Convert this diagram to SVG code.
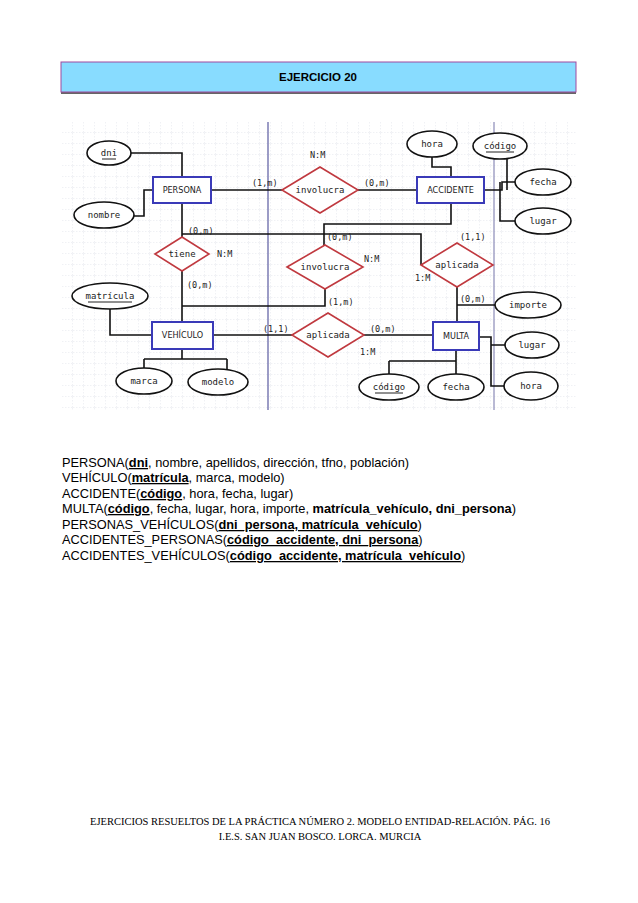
<svg xmlns="http://www.w3.org/2000/svg" width="638" height="903" viewBox="0 0 638 903">
<style>
.ent{fill:#fff;stroke:#3a3ab8;stroke-width:2}
.att{fill:#fff;stroke:#111;stroke-width:1.6}
.rel{fill:#fff;stroke:#c0393f;stroke-width:1.6}
.ln{fill:none;stroke:#111;stroke-width:1.6}
.t{font-family:"DejaVu Sans Mono",monospace;font-size:9px;fill:#222;text-anchor:middle}
.e{font-family:"DejaVu Sans Condensed","DejaVu Sans",sans-serif;font-size:9px;fill:#222;text-anchor:middle}
.c{font-family:"DejaVu Sans Mono",monospace;font-size:8.5px;fill:#222}
.p{font-family:"Liberation Sans",Arial,sans-serif;font-size:12.8px;fill:#000}
.f{font-family:"Liberation Serif","Times New Roman",serif;font-size:10.5px;fill:#000;text-anchor:middle}
</style>
<defs>
<pattern id="g" width="11" height="11" patternUnits="userSpaceOnUse" x="62" y="122">
<path d="M11 0V11M0 11H11" fill="none" stroke="#d8dce4" stroke-width="0.8" stroke-dasharray="1.5,1.5"/>
</pattern>
</defs>
<rect width="638" height="903" fill="#fff"/>
<g id="header">
<rect x="61" y="63" width="515" height="31" fill="#000" opacity="0.6"/>
<rect x="61" y="62" width="515" height="30" fill="#88dcff" stroke="#a04aa0" stroke-width="1"/>
<text x="318" y="81" font-family="Liberation Sans,Arial,sans-serif" font-size="11.5px" font-weight="bold" text-anchor="middle">EJERCICIO 20</text>
</g>
<rect x="62" y="122" width="515" height="288" fill="url(#g)"/>
<line x1="268" y1="122" x2="268" y2="410" stroke="#5a5aa0" stroke-width="1.2"/>
<line x1="494" y1="122" x2="494" y2="410" stroke="#8a8ab8" stroke-width="1.2"/>
<g id="connectors">
<path class="ln" d="M131 153H182V177"/>
<path class="ln" d="M134 216H144V190H153"/>
<path class="ln" d="M211 190H282"/>
<path class="ln" d="M358 190H417"/>
<path class="ln" d="M432 157V167H451V177"/>
<path class="ln" d="M484 190H502V182H515"/>
<path class="ln" d="M500 182V221H515"/>
<path class="ln" d="M507 159V190"/>
<path class="ln" d="M182 203V237"/>
<path class="ln" d="M182 234H421V265"/>
<path class="ln" d="M451 203V224H324V245"/>
<path class="ln" d="M182 271V322"/>
<path class="ln" d="M182 306H325V289"/>
<path class="ln" d="M457 287V322"/>
<path class="ln" d="M457 305H495"/>
<path class="ln" d="M213 335H292"/>
<path class="ln" d="M364 335H433"/>
<path class="ln" d="M110 309V335H152"/>
<path class="ln" d="M182 349V359M144 359H227M144 359V368M227 359V369"/>
<path class="ln" d="M456 350V374M389 361H456M389 361V374"/>
<path class="ln" d="M479 337H491V386H504M491 345H505"/>
</g>
<g id="persona"><rect class="ent" x="153" y="177" width="58" height="26"/><text class="e" x="182" y="193">PERSONA</text></g>
<g id="accidente"><rect class="ent" x="417" y="177" width="67" height="26"/><text class="e" x="450.5" y="193">ACCIDENTE</text></g>
<g id="vehiculo"><rect class="ent" x="152" y="322" width="61" height="27"/><text class="e" x="182.5" y="338">VEHÍCULO</text></g>
<g id="multa"><rect class="ent" x="433" y="322" width="46" height="28"/><text class="e" x="456" y="339">MULTA</text></g>
<g id="dni"><ellipse class="att" cx="109" cy="153" rx="22" ry="12"/><text class="t" x="109" y="156">dni</text><line x1="102" y1="159" x2="116" y2="159" stroke="#222"/></g>
<g id="nombre"><ellipse class="att" cx="104" cy="215" rx="30" ry="13"/><text class="t" x="104" y="218">nombre</text></g>
<g id="hora1"><ellipse class="att" cx="432" cy="144" rx="25" ry="13"/><text class="t" x="432" y="147">hora</text></g>
<g id="codigo1"><ellipse class="att" cx="500" cy="146" rx="27" ry="13"/><text class="t" x="500" y="149">código</text><line x1="486" y1="152" x2="514" y2="152" stroke="#222"/></g>
<g id="fecha1"><ellipse class="att" cx="543" cy="182" rx="28" ry="13"/><text class="t" x="543" y="185">fecha</text></g>
<g id="lugar1"><ellipse class="att" cx="543" cy="221" rx="28" ry="13"/><text class="t" x="543" y="224">lugar</text></g>
<g id="matricula"><ellipse class="att" cx="110" cy="296" rx="38" ry="13"/><text class="t" x="110" y="299">matrícula</text><line x1="88" y1="302" x2="132" y2="302" stroke="#222"/></g>
<g id="marca"><ellipse class="att" cx="144" cy="381" rx="28" ry="13"/><text class="t" x="144" y="384">marca</text></g>
<g id="modelo"><ellipse class="att" cx="218" cy="382" rx="30" ry="13"/><text class="t" x="218" y="385">modelo</text></g>
<g id="importe"><ellipse class="att" cx="528" cy="305" rx="33" ry="13"/><text class="t" x="528" y="308">importe</text></g>
<g id="lugar2"><ellipse class="att" cx="532" cy="345" rx="27" ry="13"/><text class="t" x="532" y="348">lugar</text></g>
<g id="hora2"><ellipse class="att" cx="531" cy="386" rx="27" ry="14"/><text class="t" x="531" y="389">hora</text></g>
<g id="codigo2"><ellipse class="att" cx="389" cy="387" rx="30" ry="13"/><text class="t" x="389" y="390">código</text><line x1="375" y1="393" x2="403" y2="393" stroke="#222"/></g>
<g id="fecha2"><ellipse class="att" cx="456" cy="387" rx="28" ry="13"/><text class="t" x="456" y="390">fecha</text></g>
<g id="involucra1"><polygon class="rel" points="282,190 320,167 358,190 320,213"/><text class="t" x="320" y="193">involucra</text><text class="c" x="310" y="158">N:M</text></g>
<g id="tiene"><polygon class="rel" points="155,254 182,237 209,254 182,271"/><text class="t" x="182" y="257">tiene</text><text class="c" x="217" y="257">N:M</text></g>
<g id="involucra2"><polygon class="rel" points="287,267 325,245 363,267 325,289"/><text class="t" x="325" y="270">involucra</text><text class="c" x="364" y="262">N:M</text></g>
<g id="aplicada1"><polygon class="rel" points="421,265 457,243 493,265 457,287"/><text class="t" x="457" y="268">aplicada</text><text class="c" x="415" y="281">1:M</text></g>
<g id="aplicada2"><polygon class="rel" points="292,335 328,313 364,335 328,357"/><text class="t" x="328" y="338">aplicada</text><text class="c" x="360" y="355">1:M</text></g>
<g id="labels" class="c">
<text x="252" y="186">(1,m)</text>
<text x="364" y="186">(0,m)</text>
<text x="188" y="234">(0,m)</text>
<text x="327" y="240">(0,m)</text>
<text x="460" y="240">(1,1)</text>
<text x="187" y="288">(0,m)</text>
<text x="328" y="305">(1,m)</text>
<text x="460" y="302">(0,m)</text>
<text x="263" y="332">(1,1)</text>
<text x="370" y="332">(0,m)</text>
</g>
<g id="text" class="p">
<text x="62" y="467">PERSONA(<tspan font-weight="bold" text-decoration="underline">dni</tspan>, nombre, apellidos, dirección, tfno, población)</text>
<text x="62" y="482">VEHÍCULO(<tspan font-weight="bold" text-decoration="underline">matrícula</tspan>, marca, modelo)</text>
<text x="62" y="498">ACCIDENTE(<tspan font-weight="bold" text-decoration="underline">código</tspan>, hora, fecha, lugar)</text>
<text x="62" y="513">MULTA(<tspan font-weight="bold" text-decoration="underline">código</tspan>, fecha, lugar, hora, importe, <tspan font-weight="bold">matrícula_vehículo, dni_persona</tspan>)</text>
<text x="62" y="529">PERSONAS_VEHÍCULOS(<tspan font-weight="bold" text-decoration="underline">dni_persona, matrícula_vehículo</tspan>)</text>
<text x="62" y="544">ACCIDENTES_PERSONAS(<tspan font-weight="bold" text-decoration="underline">código_accidente, dni_persona</tspan>)</text>
<text x="62" y="560">ACCIDENTES_VEHÍCULOS(<tspan font-weight="bold" text-decoration="underline">código_accidente, matrícula_vehículo</tspan>)</text>
</g>
<g id="footer" class="f">
<text x="320" y="825">EJERCICIOS RESUELTOS DE LA PRÁCTICA NÚMERO 2. MODELO ENTIDAD-RELACIÓN. PÁG. 16</text>
<text x="320" y="840">I.E.S. SAN JUAN BOSCO. LORCA. MURCIA</text>
</g>
</svg>
